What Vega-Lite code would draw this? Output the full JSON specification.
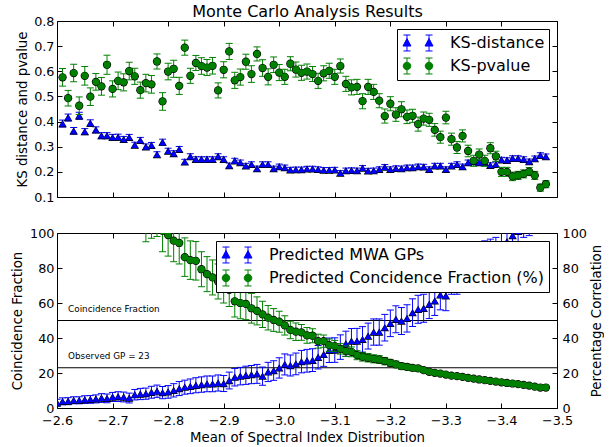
{
"$schema":"https://vega.github.io/schema/vega-lite/v6.json",
"background":"white",
"padding":{"left":10,"top":3,"right":0,"bottom":0},
"spacing":36,
"bounds":"flush",
"config":{
 "font":"DejaVu Sans",
 "view":{"stroke":"black","strokeWidth":1},
 "axis":{"domain":false,"grid":false,"tickColor":"black","tickSize":-5,"tickWidth":1,"labelFont":"DejaVu Sans","labelFontSize":12.8,"labelColor":"black","titleFont":"DejaVu Sans","titleFontSize":13.3,"titleFontWeight":"normal","titleColor":"black","labelFlush":false,"labelOverlap":false,"labelBound":false},
 "legend":{"orient":"top-right","offset":8,"padding":4,"rowPadding":3,"strokeColor":"black","fillColor":"white","cornerRadius":0,"labelFont":"DejaVu Sans","labelFontSize":16,"labelColor":"black","labelOffset":22,"symbolOffset":7,"symbolSize":361,"symbolStrokeWidth":1,"labelLimit":400}
},
"datasets":{
"frame":[{"fx":-3.0,"fy":0.5}],
"hl":[{"v":50},{"v":23}],
"ann":[{"x":-2.62,"v":55,"t":"Coincidence Fraction"},{"x":-2.62,"v":28,"t":"Observed GP = 23"}],
"top":[
{"s":"KS-distance","x":-2.61,"v":0.392,"e":0.014},{"s":"KS-distance","x":-2.62,"v":0.416,"e":0.014},{"s":"KS-distance","x":-2.63,"v":0.363,"e":0.013},{"s":"KS-distance","x":-2.64,"v":0.423,"e":0.014},{"s":"KS-distance","x":-2.65,"v":0.360,"e":0.012},{"s":"KS-distance","x":-2.66,"v":0.394,"e":0.013},{"s":"KS-distance","x":-2.67,"v":0.367,"e":0.012},{"s":"KS-distance","x":-2.68,"v":0.344,"e":0.012},{"s":"KS-distance","x":-2.69,"v":0.344,"e":0.012},{"s":"KS-distance","x":-2.70,"v":0.337,"e":0.012},
{"s":"KS-distance","x":-2.71,"v":0.338,"e":0.012},{"s":"KS-distance","x":-2.72,"v":0.329,"e":0.012},{"s":"KS-distance","x":-2.73,"v":0.337,"e":0.012},{"s":"KS-distance","x":-2.74,"v":0.307,"e":0.011},{"s":"KS-distance","x":-2.75,"v":0.325,"e":0.012},{"s":"KS-distance","x":-2.76,"v":0.300,"e":0.011},{"s":"KS-distance","x":-2.77,"v":0.306,"e":0.011},{"s":"KS-distance","x":-2.78,"v":0.269,"e":0.011},{"s":"KS-distance","x":-2.79,"v":0.318,"e":0.012},{"s":"KS-distance","x":-2.80,"v":0.283,"e":0.011},
{"s":"KS-distance","x":-2.81,"v":0.273,"e":0.011},{"s":"KS-distance","x":-2.82,"v":0.290,"e":0.011},{"s":"KS-distance","x":-2.83,"v":0.240,"e":0.010},{"s":"KS-distance","x":-2.84,"v":0.261,"e":0.011},{"s":"KS-distance","x":-2.85,"v":0.250,"e":0.010},{"s":"KS-distance","x":-2.86,"v":0.250,"e":0.010},{"s":"KS-distance","x":-2.87,"v":0.250,"e":0.010},{"s":"KS-distance","x":-2.88,"v":0.250,"e":0.010},{"s":"KS-distance","x":-2.89,"v":0.261,"e":0.011},{"s":"KS-distance","x":-2.90,"v":0.250,"e":0.010},
{"s":"KS-distance","x":-2.91,"v":0.225,"e":0.010},{"s":"KS-distance","x":-2.92,"v":0.244,"e":0.010},{"s":"KS-distance","x":-2.93,"v":0.237,"e":0.010},{"s":"KS-distance","x":-2.94,"v":0.224,"e":0.010},{"s":"KS-distance","x":-2.95,"v":0.230,"e":0.010},{"s":"KS-distance","x":-2.96,"v":0.213,"e":0.010},{"s":"KS-distance","x":-2.97,"v":0.230,"e":0.010},{"s":"KS-distance","x":-2.98,"v":0.230,"e":0.010},{"s":"KS-distance","x":-2.99,"v":0.213,"e":0.010},{"s":"KS-distance","x":-3.00,"v":0.221,"e":0.010},
{"s":"KS-distance","x":-3.01,"v":0.217,"e":0.010},{"s":"KS-distance","x":-3.02,"v":0.208,"e":0.010},{"s":"KS-distance","x":-3.03,"v":0.209,"e":0.010},{"s":"KS-distance","x":-3.04,"v":0.209,"e":0.010},{"s":"KS-distance","x":-3.05,"v":0.212,"e":0.010},{"s":"KS-distance","x":-3.06,"v":0.212,"e":0.010},{"s":"KS-distance","x":-3.07,"v":0.210,"e":0.010},{"s":"KS-distance","x":-3.08,"v":0.207,"e":0.010},{"s":"KS-distance","x":-3.09,"v":0.207,"e":0.010},{"s":"KS-distance","x":-3.10,"v":0.208,"e":0.010},
{"s":"KS-distance","x":-3.11,"v":0.195,"e":0.010},{"s":"KS-distance","x":-3.12,"v":0.205,"e":0.010},{"s":"KS-distance","x":-3.13,"v":0.206,"e":0.010},{"s":"KS-distance","x":-3.14,"v":0.205,"e":0.010},{"s":"KS-distance","x":-3.15,"v":0.215,"e":0.010},{"s":"KS-distance","x":-3.16,"v":0.204,"e":0.010},{"s":"KS-distance","x":-3.17,"v":0.205,"e":0.010},{"s":"KS-distance","x":-3.18,"v":0.210,"e":0.010},{"s":"KS-distance","x":-3.19,"v":0.219,"e":0.010},{"s":"KS-distance","x":-3.20,"v":0.210,"e":0.010},
{"s":"KS-distance","x":-3.21,"v":0.214,"e":0.010},{"s":"KS-distance","x":-3.22,"v":0.213,"e":0.010},{"s":"KS-distance","x":-3.23,"v":0.217,"e":0.010},{"s":"KS-distance","x":-3.24,"v":0.217,"e":0.010},{"s":"KS-distance","x":-3.25,"v":0.221,"e":0.010},{"s":"KS-distance","x":-3.26,"v":0.220,"e":0.010},{"s":"KS-distance","x":-3.27,"v":0.210,"e":0.010},{"s":"KS-distance","x":-3.28,"v":0.224,"e":0.010},{"s":"KS-distance","x":-3.29,"v":0.224,"e":0.010},{"s":"KS-distance","x":-3.30,"v":0.210,"e":0.010},
{"s":"KS-distance","x":-3.31,"v":0.224,"e":0.010},{"s":"KS-distance","x":-3.32,"v":0.230,"e":0.010},{"s":"KS-distance","x":-3.33,"v":0.221,"e":0.010},{"s":"KS-distance","x":-3.34,"v":0.237,"e":0.010},{"s":"KS-distance","x":-3.35,"v":0.241,"e":0.010},{"s":"KS-distance","x":-3.36,"v":0.237,"e":0.010},{"s":"KS-distance","x":-3.37,"v":0.237,"e":0.010},{"s":"KS-distance","x":-3.38,"v":0.226,"e":0.010},{"s":"KS-distance","x":-3.39,"v":0.230,"e":0.010},{"s":"KS-distance","x":-3.40,"v":0.248,"e":0.010},
{"s":"KS-distance","x":-3.41,"v":0.246,"e":0.010},{"s":"KS-distance","x":-3.42,"v":0.254,"e":0.010},{"s":"KS-distance","x":-3.43,"v":0.254,"e":0.010},{"s":"KS-distance","x":-3.44,"v":0.250,"e":0.010},{"s":"KS-distance","x":-3.45,"v":0.241,"e":0.010},{"s":"KS-distance","x":-3.46,"v":0.253,"e":0.010},{"s":"KS-distance","x":-3.47,"v":0.266,"e":0.010},{"s":"KS-distance","x":-3.48,"v":0.261,"e":0.010},
{"s":"KS-pvalue","x":-2.61,"v":0.576,"e":0.035},{"s":"KS-pvalue","x":-2.62,"v":0.493,"e":0.031},{"s":"KS-pvalue","x":-2.63,"v":0.593,"e":0.035},{"s":"KS-pvalue","x":-2.64,"v":0.463,"e":0.035},{"s":"KS-pvalue","x":-2.65,"v":0.582,"e":0.037},{"s":"KS-pvalue","x":-2.66,"v":0.499,"e":0.035},{"s":"KS-pvalue","x":-2.67,"v":0.558,"e":0.033},{"s":"KS-pvalue","x":-2.68,"v":0.540,"e":0.035},{"s":"KS-pvalue","x":-2.69,"v":0.626,"e":0.038},{"s":"KS-pvalue","x":-2.70,"v":0.530,"e":0.032},
{"s":"KS-pvalue","x":-2.71,"v":0.562,"e":0.035},{"s":"KS-pvalue","x":-2.72,"v":0.556,"e":0.034},{"s":"KS-pvalue","x":-2.73,"v":0.601,"e":0.035},{"s":"KS-pvalue","x":-2.74,"v":0.580,"e":0.032},{"s":"KS-pvalue","x":-2.75,"v":0.525,"e":0.032},{"s":"KS-pvalue","x":-2.76,"v":0.553,"e":0.035},{"s":"KS-pvalue","x":-2.77,"v":0.548,"e":0.035},{"s":"KS-pvalue","x":-2.78,"v":0.639,"e":0.030},{"s":"KS-pvalue","x":-2.79,"v":0.480,"e":0.035},{"s":"KS-pvalue","x":-2.80,"v":0.599,"e":0.033},
{"s":"KS-pvalue","x":-2.81,"v":0.610,"e":0.034},{"s":"KS-pvalue","x":-2.82,"v":0.542,"e":0.034},{"s":"KS-pvalue","x":-2.83,"v":0.694,"e":0.030},{"s":"KS-pvalue","x":-2.84,"v":0.582,"e":0.030},{"s":"KS-pvalue","x":-2.85,"v":0.633,"e":0.030},{"s":"KS-pvalue","x":-2.86,"v":0.621,"e":0.033},{"s":"KS-pvalue","x":-2.87,"v":0.615,"e":0.032},{"s":"KS-pvalue","x":-2.88,"v":0.622,"e":0.033},{"s":"KS-pvalue","x":-2.89,"v":0.524,"e":0.030},{"s":"KS-pvalue","x":-2.90,"v":0.606,"e":0.032},
{"s":"KS-pvalue","x":-2.91,"v":0.679,"e":0.032},{"s":"KS-pvalue","x":-2.92,"v":0.564,"e":0.032},{"s":"KS-pvalue","x":-2.93,"v":0.577,"e":0.032},{"s":"KS-pvalue","x":-2.94,"v":0.638,"e":0.030},{"s":"KS-pvalue","x":-2.95,"v":0.589,"e":0.033},{"s":"KS-pvalue","x":-2.96,"v":0.669,"e":0.028},{"s":"KS-pvalue","x":-2.97,"v":0.613,"e":0.033},{"s":"KS-pvalue","x":-2.98,"v":0.578,"e":0.032},{"s":"KS-pvalue","x":-2.99,"v":0.626,"e":0.031},{"s":"KS-pvalue","x":-3.00,"v":0.595,"e":0.032},
{"s":"KS-pvalue","x":-3.01,"v":0.578,"e":0.030},{"s":"KS-pvalue","x":-3.02,"v":0.630,"e":0.028},{"s":"KS-pvalue","x":-3.03,"v":0.607,"e":0.030},{"s":"KS-pvalue","x":-3.04,"v":0.594,"e":0.030},{"s":"KS-pvalue","x":-3.05,"v":0.599,"e":0.030},{"s":"KS-pvalue","x":-3.06,"v":0.589,"e":0.030},{"s":"KS-pvalue","x":-3.07,"v":0.562,"e":0.030},{"s":"KS-pvalue","x":-3.08,"v":0.592,"e":0.030},{"s":"KS-pvalue","x":-3.09,"v":0.602,"e":0.030},{"s":"KS-pvalue","x":-3.10,"v":0.578,"e":0.030},
{"s":"KS-pvalue","x":-3.11,"v":0.621,"e":0.028},{"s":"KS-pvalue","x":-3.12,"v":0.550,"e":0.030},{"s":"KS-pvalue","x":-3.13,"v":0.536,"e":0.030},{"s":"KS-pvalue","x":-3.14,"v":0.538,"e":0.030},{"s":"KS-pvalue","x":-3.15,"v":0.481,"e":0.030},{"s":"KS-pvalue","x":-3.16,"v":0.538,"e":0.030},{"s":"KS-pvalue","x":-3.17,"v":0.518,"e":0.030},{"s":"KS-pvalue","x":-3.18,"v":0.483,"e":0.028},{"s":"KS-pvalue","x":-3.19,"v":0.422,"e":0.028},{"s":"KS-pvalue","x":-3.20,"v":0.471,"e":0.028},
{"s":"KS-pvalue","x":-3.21,"v":0.428,"e":0.027},{"s":"KS-pvalue","x":-3.22,"v":0.449,"e":0.030},{"s":"KS-pvalue","x":-3.23,"v":0.419,"e":0.027},{"s":"KS-pvalue","x":-3.24,"v":0.423,"e":0.026},{"s":"KS-pvalue","x":-3.25,"v":0.390,"e":0.028},{"s":"KS-pvalue","x":-3.26,"v":0.412,"e":0.026},{"s":"KS-pvalue","x":-3.27,"v":0.407,"e":0.026},{"s":"KS-pvalue","x":-3.28,"v":0.367,"e":0.025},{"s":"KS-pvalue","x":-3.29,"v":0.338,"e":0.024},{"s":"KS-pvalue","x":-3.30,"v":0.416,"e":0.025},
{"s":"KS-pvalue","x":-3.31,"v":0.330,"e":0.024},{"s":"KS-pvalue","x":-3.32,"v":0.297,"e":0.024},{"s":"KS-pvalue","x":-3.33,"v":0.343,"e":0.024},{"s":"KS-pvalue","x":-3.34,"v":0.283,"e":0.023},{"s":"KS-pvalue","x":-3.35,"v":0.244,"e":0.022},{"s":"KS-pvalue","x":-3.36,"v":0.269,"e":0.022},{"s":"KS-pvalue","x":-3.37,"v":0.244,"e":0.022},{"s":"KS-pvalue","x":-3.38,"v":0.294,"e":0.022},{"s":"KS-pvalue","x":-3.39,"v":0.262,"e":0.020},{"s":"KS-pvalue","x":-3.40,"v":0.200,"e":0.018},
{"s":"KS-pvalue","x":-3.41,"v":0.200,"e":0.018},{"s":"KS-pvalue","x":-3.42,"v":0.182,"e":0.017},{"s":"KS-pvalue","x":-3.43,"v":0.186,"e":0.016},{"s":"KS-pvalue","x":-3.44,"v":0.192,"e":0.016},{"s":"KS-pvalue","x":-3.45,"v":0.201,"e":0.016},{"s":"KS-pvalue","x":-3.46,"v":0.186,"e":0.016},{"s":"KS-pvalue","x":-3.47,"v":0.137,"e":0.014},{"s":"KS-pvalue","x":-3.48,"v":0.151,"e":0.014}
],
"bottom":[
{"s":"Predicted MWA GPs","x":-2.60,"v":3.0,"e":2.0},{"s":"Predicted MWA GPs","x":-2.61,"v":3.8,"e":2.0},{"s":"Predicted MWA GPs","x":-2.62,"v":3.9,"e":2.0},{"s":"Predicted MWA GPs","x":-2.63,"v":4.4,"e":2.0},{"s":"Predicted MWA GPs","x":-2.64,"v":4.4,"e":2.0},{"s":"Predicted MWA GPs","x":-2.65,"v":4.8,"e":2.2},{"s":"Predicted MWA GPs","x":-2.66,"v":4.9,"e":2.2},{"s":"Predicted MWA GPs","x":-2.67,"v":5.2,"e":2.3},{"s":"Predicted MWA GPs","x":-2.68,"v":5.7,"e":2.5},{"s":"Predicted MWA GPs","x":-2.69,"v":5.5,"e":2.5},
{"s":"Predicted MWA GPs","x":-2.70,"v":6.3,"e":2.6},{"s":"Predicted MWA GPs","x":-2.71,"v":6.5,"e":2.8},{"s":"Predicted MWA GPs","x":-2.72,"v":6.3,"e":2.8},{"s":"Predicted MWA GPs","x":-2.73,"v":5.7,"e":2.8},{"s":"Predicted MWA GPs","x":-2.74,"v":7.6,"e":3.0},{"s":"Predicted MWA GPs","x":-2.75,"v":8.0,"e":3.2},{"s":"Predicted MWA GPs","x":-2.76,"v":8.2,"e":3.2},{"s":"Predicted MWA GPs","x":-2.77,"v":9.0,"e":3.4},{"s":"Predicted MWA GPs","x":-2.78,"v":9.6,"e":3.5},{"s":"Predicted MWA GPs","x":-2.79,"v":8.8,"e":3.5},
{"s":"Predicted MWA GPs","x":-2.80,"v":9.2,"e":3.6},{"s":"Predicted MWA GPs","x":-2.81,"v":10.1,"e":3.8},{"s":"Predicted MWA GPs","x":-2.82,"v":11.1,"e":4.0},{"s":"Predicted MWA GPs","x":-2.83,"v":11.9,"e":4.0},{"s":"Predicted MWA GPs","x":-2.84,"v":12.4,"e":4.2},{"s":"Predicted MWA GPs","x":-2.85,"v":13.0,"e":4.3},{"s":"Predicted MWA GPs","x":-2.86,"v":13.4,"e":4.4},{"s":"Predicted MWA GPs","x":-2.87,"v":13.8,"e":4.5},{"s":"Predicted MWA GPs","x":-2.88,"v":13.8,"e":4.5},{"s":"Predicted MWA GPs","x":-2.89,"v":14.3,"e":4.6},
{"s":"Predicted MWA GPs","x":-2.90,"v":14.0,"e":4.6},{"s":"Predicted MWA GPs","x":-2.91,"v":15.7,"e":4.8},{"s":"Predicted MWA GPs","x":-2.92,"v":17.6,"e":5.0},{"s":"Predicted MWA GPs","x":-2.93,"v":18.2,"e":5.0},{"s":"Predicted MWA GPs","x":-2.94,"v":18.7,"e":5.2},{"s":"Predicted MWA GPs","x":-2.95,"v":19.1,"e":5.2},{"s":"Predicted MWA GPs","x":-2.96,"v":19.5,"e":5.4},{"s":"Predicted MWA GPs","x":-2.97,"v":18.2,"e":5.2},{"s":"Predicted MWA GPs","x":-2.98,"v":20.6,"e":5.5},{"s":"Predicted MWA GPs","x":-2.99,"v":21.4,"e":5.6},
{"s":"Predicted MWA GPs","x":-3.00,"v":22.9,"e":5.8},{"s":"Predicted MWA GPs","x":-3.01,"v":24.9,"e":6.0},{"s":"Predicted MWA GPs","x":-3.02,"v":24.3,"e":6.0},{"s":"Predicted MWA GPs","x":-3.03,"v":25.2,"e":6.2},{"s":"Predicted MWA GPs","x":-3.04,"v":26.5,"e":6.4},{"s":"Predicted MWA GPs","x":-3.05,"v":27.0,"e":6.5},{"s":"Predicted MWA GPs","x":-3.06,"v":27.3,"e":6.5},{"s":"Predicted MWA GPs","x":-3.07,"v":29.0,"e":6.7},{"s":"Predicted MWA GPs","x":-3.08,"v":30.6,"e":6.8},{"s":"Predicted MWA GPs","x":-3.09,"v":33.0,"e":7.0},
{"s":"Predicted MWA GPs","x":-3.10,"v":33.1,"e":7.0},{"s":"Predicted MWA GPs","x":-3.11,"v":34.8,"e":7.0},{"s":"Predicted MWA GPs","x":-3.12,"v":36.7,"e":7.2},{"s":"Predicted MWA GPs","x":-3.13,"v":38.2,"e":7.2},{"s":"Predicted MWA GPs","x":-3.14,"v":38.2,"e":7.3},{"s":"Predicted MWA GPs","x":-3.15,"v":39.2,"e":7.3},{"s":"Predicted MWA GPs","x":-3.16,"v":41.1,"e":7.4},{"s":"Predicted MWA GPs","x":-3.17,"v":43.4,"e":7.5},{"s":"Predicted MWA GPs","x":-3.18,"v":43.4,"e":7.5},{"s":"Predicted MWA GPs","x":-3.19,"v":45.9,"e":7.6},
{"s":"Predicted MWA GPs","x":-3.20,"v":48.4,"e":7.6},{"s":"Predicted MWA GPs","x":-3.21,"v":50.7,"e":7.7},{"s":"Predicted MWA GPs","x":-3.22,"v":49.7,"e":7.7},{"s":"Predicted MWA GPs","x":-3.23,"v":51.2,"e":7.8},{"s":"Predicted MWA GPs","x":-3.24,"v":54.5,"e":7.9},{"s":"Predicted MWA GPs","x":-3.25,"v":56.4,"e":8.0},{"s":"Predicted MWA GPs","x":-3.26,"v":57.0,"e":8.0},{"s":"Predicted MWA GPs","x":-3.27,"v":59.3,"e":8.2},{"s":"Predicted MWA GPs","x":-3.28,"v":61.2,"e":8.3},{"s":"Predicted MWA GPs","x":-3.29,"v":64.6,"e":8.5},
{"s":"Predicted MWA GPs","x":-3.30,"v":64.1,"e":8.5},{"s":"Predicted MWA GPs","x":-3.31,"v":73.0,"e":8.0},{"s":"Predicted MWA GPs","x":-3.32,"v":74.0,"e":9.0},{"s":"Predicted MWA GPs","x":-3.33,"v":76.0,"e":9.0},{"s":"Predicted MWA GPs","x":-3.34,"v":78.0,"e":9.0},{"s":"Predicted MWA GPs","x":-3.35,"v":80.0,"e":9.0},{"s":"Predicted MWA GPs","x":-3.36,"v":83.0,"e":9.0},{"s":"Predicted MWA GPs","x":-3.37,"v":86.0,"e":9.5},{"s":"Predicted MWA GPs","x":-3.38,"v":87.0,"e":9.5},{"s":"Predicted MWA GPs","x":-3.39,"v":88.0,"e":9.5},
{"s":"Predicted MWA GPs","x":-3.40,"v":92.0,"e":9.5},{"s":"Predicted MWA GPs","x":-3.41,"v":95.0,"e":9.5},{"s":"Predicted MWA GPs","x":-3.42,"v":98.5,"e":9.5},{"s":"Predicted MWA GPs","x":-3.43,"v":101.0,"e":9.5},{"s":"Predicted MWA GPs","x":-3.44,"v":107.0,"e":9.5},{"s":"Predicted MWA GPs","x":-3.45,"v":108.0,"e":9.5},{"s":"Predicted MWA GPs","x":-3.46,"v":112.0,"e":10.0},{"s":"Predicted MWA GPs","x":-3.47,"v":114.0,"e":10.0},{"s":"Predicted MWA GPs","x":-3.48,"v":118.0,"e":10.0},
{"s":"Predicted Concidence Fraction (%)","x":-2.60,"v":160,"e":20},{"s":"Predicted Concidence Fraction (%)","x":-2.61,"v":156,"e":20},{"s":"Predicted Concidence Fraction (%)","x":-2.62,"v":152,"e":20},{"s":"Predicted Concidence Fraction (%)","x":-2.63,"v":148,"e":20},{"s":"Predicted Concidence Fraction (%)","x":-2.64,"v":145,"e":20},{"s":"Predicted Concidence Fraction (%)","x":-2.65,"v":141,"e":19},{"s":"Predicted Concidence Fraction (%)","x":-2.66,"v":138,"e":19},{"s":"Predicted Concidence Fraction (%)","x":-2.67,"v":134,"e":18},{"s":"Predicted Concidence Fraction (%)","x":-2.68,"v":131,"e":18},{"s":"Predicted Concidence Fraction (%)","x":-2.69,"v":128,"e":18},
{"s":"Predicted Concidence Fraction (%)","x":-2.70,"v":125,"e":17},{"s":"Predicted Concidence Fraction (%)","x":-2.71,"v":122,"e":17},{"s":"Predicted Concidence Fraction (%)","x":-2.72,"v":120,"e":17},{"s":"Predicted Concidence Fraction (%)","x":-2.73,"v":117,"e":16.5},{"s":"Predicted Concidence Fraction (%)","x":-2.74,"v":115,"e":14},{"s":"Predicted Concidence Fraction (%)","x":-2.75,"v":113,"e":12},{"s":"Predicted Concidence Fraction (%)","x":-2.76,"v":110,"e":15},{"s":"Predicted Concidence Fraction (%)","x":-2.77,"v":107,"e":10},{"s":"Predicted Concidence Fraction (%)","x":-2.78,"v":104,"e":6},{"s":"Predicted Concidence Fraction (%)","x":-2.79,"v":101.3,"e":12},
{"s":"Predicted Concidence Fraction (%)","x":-2.80,"v":98.8,"e":12},{"s":"Predicted Concidence Fraction (%)","x":-2.81,"v":95.6,"e":12},{"s":"Predicted Concidence Fraction (%)","x":-2.82,"v":94.3,"e":12},{"s":"Predicted Concidence Fraction (%)","x":-2.83,"v":86.2,"e":11},{"s":"Predicted Concidence Fraction (%)","x":-2.84,"v":84.5,"e":11},{"s":"Predicted Concidence Fraction (%)","x":-2.85,"v":84.1,"e":11},{"s":"Predicted Concidence Fraction (%)","x":-2.86,"v":79.3,"e":10},{"s":"Predicted Concidence Fraction (%)","x":-2.87,"v":76.5,"e":10},{"s":"Predicted Concidence Fraction (%)","x":-2.88,"v":74.6,"e":10},{"s":"Predicted Concidence Fraction (%)","x":-2.89,"v":72.3,"e":10},
{"s":"Predicted Concidence Fraction (%)","x":-2.90,"v":70.0,"e":10},{"s":"Predicted Concidence Fraction (%)","x":-2.91,"v":67.5,"e":9.5},{"s":"Predicted Concidence Fraction (%)","x":-2.92,"v":61.0,"e":9},{"s":"Predicted Concidence Fraction (%)","x":-2.93,"v":60.0,"e":9},{"s":"Predicted Concidence Fraction (%)","x":-2.94,"v":59.5,"e":9},{"s":"Predicted Concidence Fraction (%)","x":-2.95,"v":57.0,"e":8.5},{"s":"Predicted Concidence Fraction (%)","x":-2.96,"v":55.5,"e":8},{"s":"Predicted Concidence Fraction (%)","x":-2.97,"v":53.5,"e":7.5},{"s":"Predicted Concidence Fraction (%)","x":-2.98,"v":51.6,"e":7},{"s":"Predicted Concidence Fraction (%)","x":-2.99,"v":50.3,"e":6.5},
{"s":"Predicted Concidence Fraction (%)","x":-3.00,"v":49.3,"e":6},{"s":"Predicted Concidence Fraction (%)","x":-3.01,"v":47.2,"e":5.5},{"s":"Predicted Concidence Fraction (%)","x":-3.02,"v":44.6,"e":5},{"s":"Predicted Concidence Fraction (%)","x":-3.03,"v":43.6,"e":5},{"s":"Predicted Concidence Fraction (%)","x":-3.04,"v":43.2,"e":4.5},{"s":"Predicted Concidence Fraction (%)","x":-3.05,"v":41.5,"e":4.5},{"s":"Predicted Concidence Fraction (%)","x":-3.06,"v":41.3,"e":4},{"s":"Predicted Concidence Fraction (%)","x":-3.07,"v":38.2,"e":4},{"s":"Predicted Concidence Fraction (%)","x":-3.08,"v":38.2,"e":3.5},{"s":"Predicted Concidence Fraction (%)","x":-3.09,"v":35.9,"e":3.5},
{"s":"Predicted Concidence Fraction (%)","x":-3.10,"v":35.4,"e":3.2},{"s":"Predicted Concidence Fraction (%)","x":-3.11,"v":33.8,"e":3},{"s":"Predicted Concidence Fraction (%)","x":-3.12,"v":32.5,"e":3},{"s":"Predicted Concidence Fraction (%)","x":-3.13,"v":32.1,"e":2.8},{"s":"Predicted Concidence Fraction (%)","x":-3.14,"v":30.2,"e":2.6},{"s":"Predicted Concidence Fraction (%)","x":-3.15,"v":29.3,"e":2.5},{"s":"Predicted Concidence Fraction (%)","x":-3.16,"v":28.7,"e":2.4},{"s":"Predicted Concidence Fraction (%)","x":-3.17,"v":28.1,"e":2.3},{"s":"Predicted Concidence Fraction (%)","x":-3.18,"v":27.7,"e":2.2},{"s":"Predicted Concidence Fraction (%)","x":-3.19,"v":26.8,"e":2.1},
{"s":"Predicted Concidence Fraction (%)","x":-3.20,"v":25.8,"e":2.0},{"s":"Predicted Concidence Fraction (%)","x":-3.21,"v":24.9,"e":1.9},{"s":"Predicted Concidence Fraction (%)","x":-3.22,"v":23.9,"e":1.8},{"s":"Predicted Concidence Fraction (%)","x":-3.23,"v":23.5,"e":1.7},{"s":"Predicted Concidence Fraction (%)","x":-3.24,"v":22.9,"e":1.6},{"s":"Predicted Concidence Fraction (%)","x":-3.25,"v":22.6,"e":1.5},{"s":"Predicted Concidence Fraction (%)","x":-3.26,"v":21.6,"e":1.4},{"s":"Predicted Concidence Fraction (%)","x":-3.27,"v":20.7,"e":1.3},{"s":"Predicted Concidence Fraction (%)","x":-3.28,"v":20.1,"e":1.2},{"s":"Predicted Concidence Fraction (%)","x":-3.29,"v":19.7,"e":1.1},
{"s":"Predicted Concidence Fraction (%)","x":-3.30,"v":19.1,"e":1.0},{"s":"Predicted Concidence Fraction (%)","x":-3.31,"v":18.5,"e":0.9},{"s":"Predicted Concidence Fraction (%)","x":-3.32,"v":18.2,"e":0.9},{"s":"Predicted Concidence Fraction (%)","x":-3.33,"v":17.8,"e":0.9},{"s":"Predicted Concidence Fraction (%)","x":-3.34,"v":17.2,"e":0.8},{"s":"Predicted Concidence Fraction (%)","x":-3.35,"v":16.8,"e":0.8},{"s":"Predicted Concidence Fraction (%)","x":-3.36,"v":16.3,"e":0.8},{"s":"Predicted Concidence Fraction (%)","x":-3.37,"v":15.9,"e":0.8},{"s":"Predicted Concidence Fraction (%)","x":-3.38,"v":15.5,"e":0.7},{"s":"Predicted Concidence Fraction (%)","x":-3.39,"v":15.1,"e":0.7},
{"s":"Predicted Concidence Fraction (%)","x":-3.40,"v":14.7,"e":0.7},{"s":"Predicted Concidence Fraction (%)","x":-3.41,"v":14.3,"e":0.7},{"s":"Predicted Concidence Fraction (%)","x":-3.42,"v":14.0,"e":0.7},{"s":"Predicted Concidence Fraction (%)","x":-3.43,"v":13.6,"e":0.6},{"s":"Predicted Concidence Fraction (%)","x":-3.44,"v":13.2,"e":0.6},{"s":"Predicted Concidence Fraction (%)","x":-3.45,"v":12.8,"e":0.6},{"s":"Predicted Concidence Fraction (%)","x":-3.46,"v":12.2,"e":0.6},{"s":"Predicted Concidence Fraction (%)","x":-3.47,"v":11.7,"e":0.6},{"s":"Predicted Concidence Fraction (%)","x":-3.48,"v":11.7,"e":0.6}
]
},
"resolve":{"scale":{"color":"independent"},"legend":{"color":"independent"}},
"vconcat":[
{
 "width":500,"height":176,
 "resolve":{"scale":{"x":"independent","y":"independent"}},
 "layer":[
  {
   "data":{"name":"top"},
   "encoding":{
    "x":{"field":"x","type":"quantitative","scale":{"domain":[-2.6,-3.5],"nice":false,"zero":false},"axis":{"values":[-2.6,-2.7,-2.8,-2.9,-3.0,-3.1,-3.2,-3.3,-3.4,-3.5],"labels":false,"title":null}},
    "y":{"field":"v","type":"quantitative","scale":{"domain":[0.1,0.8],"nice":false,"zero":false},"axis":{"values":[0.1,0.2,0.3,0.4,0.5,0.6,0.7,0.8],"format":".1f","title":"KS distance and pvalue","labelPadding":8,"titlePadding":4}},
    "color":{"field":"s","type":"nominal","scale":{"domain":["KS-distance","KS-pvalue"],"range":["#0000ff","#008000"]},
     "legend":{"title":null,
      "symbolType":{"expr":"datum.value==='KS-distance' ? 'M-1.16,-0.84L-1.16,0.84M-1.53,-0.84L-0.79,-0.84M-1.53,0.84L-0.79,0.84M1.16,-0.84L1.16,0.84M0.79,-0.84L1.53,-0.84M0.79,0.84L1.53,0.84M-1.16,-0.47L-0.74,0.32L-1.58,0.32ZM1.16,-0.47L1.58,0.32L0.74,0.32Z' : 'M-1.16,-0.84L-1.16,0.84M-1.53,-0.84L-0.79,-0.84M-1.53,0.84L-0.79,0.84M1.16,-0.84L1.16,0.84M0.79,-0.84L1.53,-0.84M0.79,0.84L1.53,0.84M-1.56,0A0.4,0.4,0,1,0,-0.76,0A0.4,0.4,0,1,0,-1.56,0ZM0.76,0A0.4,0.4,0,1,0,1.56,0A0.4,0.4,0,1,0,0.76,0Z'"},
      "symbolStrokeColor":{"expr":"datum.value==='KS-distance' ? '#0000ff' : '#008000'"},
      "symbolFillColor":{"expr":"datum.value==='KS-distance' ? '#0000ff' : '#008000'"}}}
   },
   "layer":[
    {"transform":[{"filter":"datum.s==='KS-distance'"}],"mark":{"type":"errorbar","ticks":{"opacity":1},"rule":{"opacity":1},"size":7,"thickness":1},"encoding":{"yError":{"field":"e"}}},
    {"transform":[{"filter":"datum.s==='KS-distance'"}],"mark":{"type":"point","shape":"triangle-up","filled":true,"size":72,"opacity":1},"encoding":{"color":{"value":"black"}}},
    {"transform":[{"filter":"datum.s==='KS-distance'"}],"mark":{"type":"point","shape":"triangle-up","filled":true,"size":46,"opacity":1}},
    {"transform":[{"filter":"datum.s==='KS-pvalue'"}],"mark":{"type":"errorbar","ticks":{"opacity":1},"rule":{"opacity":1},"size":7,"thickness":1},"encoding":{"yError":{"field":"e"}}},
    {"transform":[{"filter":"datum.s==='KS-pvalue'"}],"mark":{"type":"point","shape":"circle","filled":true,"size":68,"opacity":1},"encoding":{"color":{"value":"black"}}},
    {"transform":[{"filter":"datum.s==='KS-pvalue'"}],"mark":{"type":"point","shape":"circle","filled":true,"size":48,"opacity":1}}
   ]
  },
  {
   "data":{"name":"frame"},
   "mark":{"type":"point","opacity":0},
   "encoding":{
    "x":{"field":"fx","type":"quantitative","scale":{"domain":[-2.6,-3.5],"nice":false,"zero":false},"axis":{"orient":"top","values":[-2.6,-2.7,-2.8,-2.9,-3.0,-3.1,-3.2,-3.3,-3.4,-3.5],"labels":false,"title":"Monte Carlo Analysis Results","titleFontSize":16,"titlePadding":1}},
    "y":{"field":"fy","type":"quantitative","scale":{"domain":[0.1,0.8],"nice":false,"zero":false},"axis":{"orient":"right","values":[0.1,0.2,0.3,0.4,0.5,0.6,0.7,0.8],"labels":false,"title":null}}
   }
  }
 ]
},
{
 "width":500,"height":175,
 "resolve":{"scale":{"x":"independent","y":"independent"}},
 "layer":[
  {
   "layer":[
    {"data":{"name":"hl"},"mark":{"type":"rule","color":"black","strokeWidth":1},
     "encoding":{"y":{"field":"v","type":"quantitative","scale":{"domain":[0,100],"nice":false,"zero":false},"axis":{"values":[0,20,40,60,80,100],"title":"Coincidence Fraction","labelPadding":8,"titlePadding":5}}}},
    {"data":{"name":"ann"},"mark":{"type":"text","align":"left","baseline":"alphabetic","fontSize":8.8,"font":"DejaVu Sans","color":"black"},
     "encoding":{"x":{"field":"x","type":"quantitative","scale":{"domain":[-2.6,-3.5],"nice":false,"zero":false},"axis":{"values":[-2.6,-2.7,-2.8,-2.9,-3.0,-3.1,-3.2,-3.3,-3.4,-3.5],"format":".1f","title":"Mean of Spectral Index Distribution","labelPadding":11,"titlePadding":4}},
      "y":{"field":"v","type":"quantitative","scale":{"domain":[0,100],"nice":false,"zero":false},"axis":{"values":[0,20,40,60,80,100],"title":"Coincidence Fraction","labelPadding":8,"titlePadding":5}},
      "text":{"field":"t"}}},
    {
     "data":{"name":"bottom"},
     "encoding":{
      "x":{"field":"x","type":"quantitative","scale":{"domain":[-2.6,-3.5],"nice":false,"zero":false},"axis":{"values":[-2.6,-2.7,-2.8,-2.9,-3.0,-3.1,-3.2,-3.3,-3.4,-3.5],"format":".1f","title":"Mean of Spectral Index Distribution","labelPadding":11,"titlePadding":4}},
      "y":{"field":"v","type":"quantitative","scale":{"domain":[0,100],"nice":false,"zero":false},"axis":{"values":[0,20,40,60,80,100],"title":"Coincidence Fraction","labelPadding":8,"titlePadding":5}},
      "color":{"field":"s","type":"nominal","scale":{"domain":["Predicted MWA GPs","Predicted Concidence Fraction (%)"],"range":["#0000ff","#008000"]},
       "legend":{"title":null,
        "symbolType":{"expr":"datum.value==='Predicted MWA GPs' ? 'M-1.16,-0.84L-1.16,0.84M-1.53,-0.84L-0.79,-0.84M-1.53,0.84L-0.79,0.84M1.16,-0.84L1.16,0.84M0.79,-0.84L1.53,-0.84M0.79,0.84L1.53,0.84M-1.16,-0.47L-0.74,0.32L-1.58,0.32ZM1.16,-0.47L1.58,0.32L0.74,0.32Z' : 'M-1.16,-0.84L-1.16,0.84M-1.53,-0.84L-0.79,-0.84M-1.53,0.84L-0.79,0.84M1.16,-0.84L1.16,0.84M0.79,-0.84L1.53,-0.84M0.79,0.84L1.53,0.84M-1.56,0A0.4,0.4,0,1,0,-0.76,0A0.4,0.4,0,1,0,-1.56,0ZM0.76,0A0.4,0.4,0,1,0,1.56,0A0.4,0.4,0,1,0,0.76,0Z'"},
        "symbolStrokeColor":{"expr":"datum.value==='Predicted MWA GPs' ? '#0000ff' : '#008000'"},
        "symbolFillColor":{"expr":"datum.value==='Predicted MWA GPs' ? '#0000ff' : '#008000'"}}}
     },
     "layer":[
      {"transform":[{"filter":"datum.s==='Predicted MWA GPs'"}],"mark":{"type":"errorbar","ticks":{"opacity":1},"rule":{"opacity":1},"size":7,"thickness":1,"clip":true},"encoding":{"yError":{"field":"e"}}},
      {"transform":[{"filter":"datum.s==='Predicted MWA GPs'"}],"mark":{"type":"point","shape":"triangle-up","filled":true,"size":72,"opacity":1,"clip":true},"encoding":{"color":{"value":"black"}}},
      {"transform":[{"filter":"datum.s==='Predicted MWA GPs'"}],"mark":{"type":"point","shape":"triangle-up","filled":true,"size":46,"opacity":1,"clip":true}},
      {"transform":[{"filter":"datum.s!=='Predicted MWA GPs'"}],"mark":{"type":"errorbar","ticks":{"opacity":1},"rule":{"opacity":1},"size":7,"thickness":1,"clip":true},"encoding":{"yError":{"field":"e"}}},
      {"transform":[{"filter":"datum.s!=='Predicted MWA GPs'"}],"mark":{"type":"point","shape":"circle","filled":true,"size":68,"opacity":1,"clip":true},"encoding":{"color":{"value":"black"}}},
      {"transform":[{"filter":"datum.s!=='Predicted MWA GPs'"}],"mark":{"type":"point","shape":"circle","filled":true,"size":48,"opacity":1,"clip":true}}
     ]
    }
   ]
  },
  {
   "data":{"name":"frame"},
   "mark":{"type":"point","opacity":0},
   "encoding":{
    "x":{"field":"fx","type":"quantitative","scale":{"domain":[-2.6,-3.5],"nice":false,"zero":false},"axis":{"orient":"top","values":[-2.6,-2.7,-2.8,-2.9,-3.0,-3.1,-3.2,-3.3,-3.4,-3.5],"labels":false,"title":null}},
    "y":{"field":"fy","type":"quantitative","scale":{"domain":[0,100],"nice":false,"zero":false},"axis":{"orient":"right","values":[0,20,40,60,80,100],"title":"Percentage Correlation","labelPadding":10,"titlePadding":3,"titleAngle":270,"titleBaseline":"top"}}
   }
  }
 ]
}
]
}
